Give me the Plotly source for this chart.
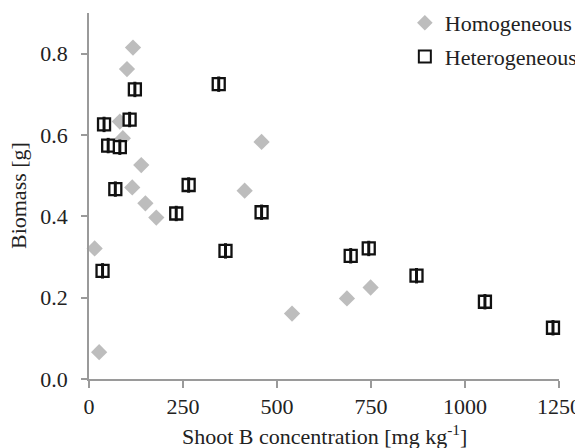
import plotly.graph_objects as go

# Homogeneous
homo_x = [117, 101, 82, 90, 139, 115, 150, 179, 459, 414, 15, 27, 540, 686, 749]
homo_y = [0.815, 0.762, 0.633, 0.592, 0.526, 0.471, 0.432, 0.397, 0.583, 0.463, 0.321, 0.066, 0.161, 0.198, 0.225]

# Heterogeneous
het_x = [40, 122, 108, 51, 82, 70, 345, 265, 232, 459, 36, 363, 696, 744, 871, 1053, 1234]
het_y = [0.626, 0.712, 0.638, 0.574, 0.570, 0.467, 0.725, 0.477, 0.407, 0.410, 0.266, 0.315, 0.303, 0.321, 0.254, 0.190, 0.126]

x_ticks = [0, 250, 500, 750, 1000, 1250]
y_ticks = [0.0, 0.2, 0.4, 0.6, 0.8]

FONT = "Liberation Serif, Times New Roman, serif"
AXIS_COLOR = "#9a9a9a"
TXT = "#222222"
FS = 22

fig = go.Figure()
fig.add_trace(go.Scatter(
    x=homo_x, y=homo_y, mode="markers", name="Homogeneous",
    legendgroup="a",
    marker=dict(symbol="diamond", size=12.5, color="#bdbdbd", line=dict(width=0)),
    cliponaxis=False,
))
fig.add_trace(go.Scatter(
    x=het_x, y=het_y, mode="markers", name="Heterogeneous",
    legendgroup="b",
    marker=dict(symbol="square", size=12, color="white", line=dict(width=2.3, color="#111111")),
    cliponaxis=False,
))
fig.add_trace(go.Scatter(
    x=het_x, y=het_y, mode="markers", name="Heterogeneous",
    legendgroup="b", showlegend=False, hoverinfo="skip",
    marker=dict(symbol="line-ns", size=11, color="#111111", line=dict(width=3, color="#111111")),
    cliponaxis=False,
))

fig.update_layout(
    width=575, height=440,
    margin=dict(l=81, r=24, t=5, b=69, autoexpand=False),
    paper_bgcolor="white", plot_bgcolor="white",
    font=dict(family=FONT, size=FS, color=TXT),
    showlegend=True,
    legend=dict(
        x=0.672, xanchor="left", y=1.03, yanchor="top",
        bgcolor="rgba(0,0,0,0)", borderwidth=0,
        font=dict(family=FONT, size=FS, color=TXT),
        traceorder="grouped", tracegroupgap=2,
        itemsizing="constant",
    ),
    xaxis=dict(
        range=[0, 1250], tickvals=x_ticks, ticktext=[str(v) for v in x_ticks],
        showgrid=False, zeroline=False, automargin=False,
        showline=True, linecolor=AXIS_COLOR, linewidth=1.5,
        ticks="outside", ticklen=7, tickcolor=AXIS_COLOR, tickwidth=1.5,
        ticklabeloverflow="allow",
        tickfont=dict(family=FONT, size=FS, color=TXT),
    ),
    yaxis=dict(
        range=[0, 0.9], tickvals=y_ticks, ticktext=[f"{v:.1f}" for v in y_ticks],
        showgrid=False, zeroline=False, automargin=False,
        showline=True, linecolor=AXIS_COLOR, linewidth=1.5,
        ticks="outside", ticklen=6, tickcolor=AXIS_COLOR, tickwidth=1.5,
        ticklabelstandoff=9,
        tickfont=dict(family=FONT, size=FS, color=TXT),
    ),
    annotations=[
        dict(text="Shoot B concentration [mg kg<sup>-1</sup>]", xref="paper", yref="paper",
             x=0.5, y=-0.153, xanchor="center", yanchor="middle", showarrow=False,
             font=dict(family=FONT, size=FS, color=TXT)),
        dict(text="Biomass [g]", xref="paper", yref="paper",
             x=-0.151, y=0.5, xanchor="center", yanchor="middle", textangle=-90, showarrow=False,
             font=dict(family=FONT, size=FS, color=TXT)),
    ],
)

fig.write_html("out.html")
